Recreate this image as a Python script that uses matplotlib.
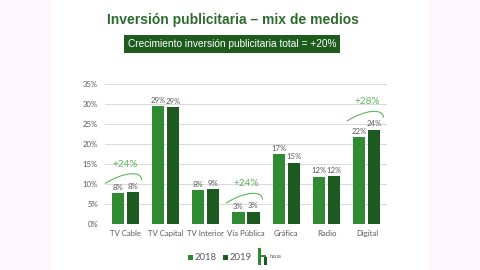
import matplotlib
matplotlib.use("Agg")
import matplotlib.pyplot as plt
from matplotlib.path import Path
from matplotlib.patches import PathPatch, Rectangle
import numpy as np

categories = ["TV Cable", "TV Capital", "TV Interior", "Vía Pública", "Gráfica", "Radio", "Digital"]
values_2018 = [7.7, 29.5, 8.4, 3.0, 17.5, 11.8, 21.7]
values_2019 = [8.0, 29.2, 8.7, 3.1, 15.3, 11.9, 23.6]
labels_2018 = ["8%", "29%", "8%", "3%", "17%", "12%", "22%"]
labels_2019 = ["8%", "29%", "9%", "3%", "15%", "12%", "24%"]
yticks = [0, 5, 10, 15, 20, 25, 30, 35]
series_names = ["2018", "2019"]
growth = [("+24%", 0), ("+24%", 3), ("+28%", 6)]

c18 = "#2f8a32"
c19 = "#1c5a1f"
grey = "#595959"
light = "#5cb85c"
tf = "Lato"

fig = plt.figure(figsize=(4.8, 2.7), dpi=100)
fig.patch.set_facecolor("#fff7fb")
fig.add_artist(Rectangle((52/480, 0), (428-52)/480, 1, transform=fig.transFigure,
                         facecolor="white", edgecolor="none", zorder=0))

ax = fig.add_axes([105/480, 1-224/270, 282/480, 140/270])
ax.set_facecolor("none")
x = np.arange(len(categories))
w = 0.30
off = 0.186
ax.bar(x - off, values_2018, w, color=c18, zorder=3)
ax.bar(x + off, values_2019, w, color=c19, zorder=3)
for xi, v, l in zip(x, values_2018, labels_2018):
    ax.text(xi - off, v + 0.6, l, ha="center", va="bottom", fontsize=5.6, color=grey, family=tf)
for xi, v, l in zip(x, values_2019, labels_2019):
    ax.text(xi + off, v + 0.6, l, ha="center", va="bottom", fontsize=5.6, color=grey, family=tf)

ax.set_xlim(-0.5, len(categories) - 0.5)
ax.set_ylim(0, 35)
ax.set_yticks(yticks)
ax.set_yticklabels([f"{t}%" for t in yticks], family=tf)
ax.set_xticks(x)
ax.set_xticklabels(categories, family=tf)
ax.tick_params(axis="both", length=0, labelsize=5.6, colors=grey)
ax.tick_params(axis="y", pad=5)
ax.tick_params(axis="x", pad=4)
ax.grid(axis="y", color="#d9d9d9", linewidth=0.7, zorder=0)
for s in ax.spines.values():
    s.set_visible(False)
ax.axhline(0, color="#d9d9d9", linewidth=0.8, zorder=1)

# growth annotations (arc + label)
for txt, i in growth:
    top = max(values_2018[i], values_2019[i])
    y0 = top + 1.8
    x0 = i - 0.5
    x1 = i + 0.38
    verts = [(x0, y0 + 0.3), (x0 + 0.45, y0 + 3.2), (x1 + 0.03, y0 + 3.6), (x1 + 0.03, y0 + 1.2)]
    codes = [Path.MOVETO, Path.CURVE4, Path.CURVE4, Path.CURVE4]
    ax.add_patch(PathPatch(Path(verts, codes), facecolor="none", edgecolor=light,
                           linewidth=0.8, clip_on=False, zorder=4))
    ax.text(i, y0 + 4.0, txt, ha="center", va="bottom", fontsize=7.2, color=light, family=tf)

# title and subtitle box
fig.text(233/480, 1-20/270, "Inversión publicitaria – mix de medios", ha="center", va="center",
         fontsize=10, fontweight="bold", color="#2e6b2e", family="Liberation Sans")
fig.text(232/480, 1-44/270, "Crecimiento inversión publicitaria total = +20%", ha="center", va="center",
         fontsize=7.3, color="white", family="Liberation Sans",
         bbox=dict(boxstyle="square,pad=0.35", facecolor="#1e5c1e", edgecolor="none"))

# legend
ly = 1 - 257/270
for xs, col, name in [(190, c18, series_names[0]), (225, c19, series_names[1])]:
    fig.add_artist(Rectangle((xs/480 - 2.5/480, ly - 2.5/270), 5/480, 5/270, transform=fig.transFigure,
                             facecolor=col, edgecolor="none"))
    fig.text((xs + 5)/480, ly, name, ha="left", va="center", fontsize=6.8, color=grey, family=tf)

# havas logo
fig.add_artist(Rectangle((258/480, 1-265/270), 2.5/480, 17/270, transform=fig.transFigure,
                         facecolor="#2f8a32", edgecolor="none"))
fig.add_artist(Rectangle((258/480, 1-257/270), 8/480, 2.5/270, transform=fig.transFigure,
                         facecolor="#2f8a32", edgecolor="none"))
fig.add_artist(Rectangle((264/480, 1-265/270), 2.5/480, 8/270, transform=fig.transFigure,
                         facecolor="#1c5a1f", edgecolor="none"))
fig.text(270/480, 1-257/270, "havas", ha="left", va="center", fontsize=3.5, color=grey, family=tf)

fig.savefig("out.png", dpi=100, facecolor=fig.get_facecolor())
